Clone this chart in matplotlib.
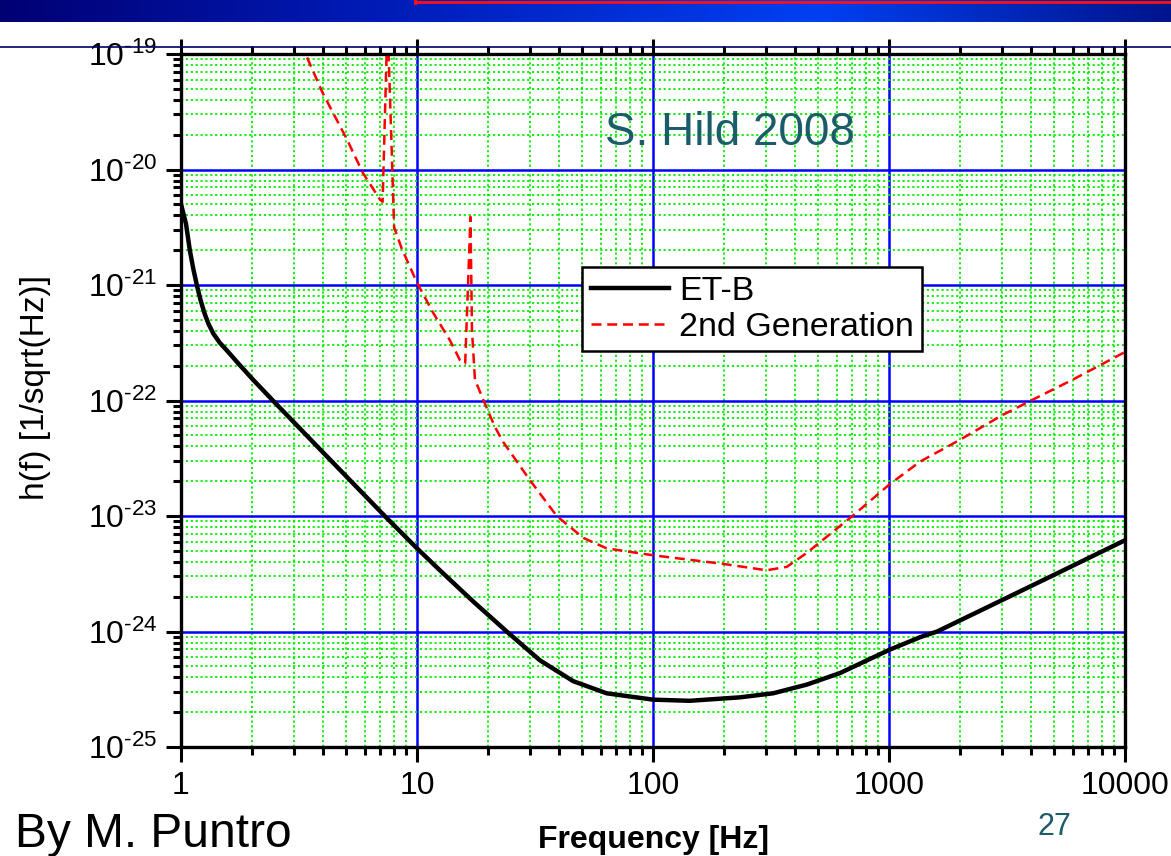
import numpy as np
import matplotlib
matplotlib.use("Agg")
import matplotlib.pyplot as plt
from matplotlib.lines import Line2D
from matplotlib.ticker import LogLocator, FuncFormatter, NullFormatter

plt.rcParams['font.family'] = ['Liberation Sans', 'DejaVu Sans']
plt.rcParams['mathtext.fontset'] = 'custom'
plt.rcParams['mathtext.rm'] = 'Liberation Sans'
plt.rcParams['mathtext.it'] = 'Liberation Sans:italic'
plt.rcParams['mathtext.bf'] = 'Liberation Sans:bold'

# ET-B sensitivity (log10 of h)
etb_f = [1.0, 1.05, 1.09, 1.13, 1.17, 1.21, 1.26, 1.31, 1.37, 1.46, 1.57, 1.75, 2.02,
         2.45, 4.0, 7.3, 10, 12.5, 17.3, 24.0, 33.2, 45.9, 63.6, 100, 143, 234, 323,
         448, 620, 1000, 1352, 1600, 3000, 5000, 10000]
etb_logh = [-20.30, -20.47, -20.70, -20.87, -21.01, -21.13, -21.25, -21.34, -21.42,
            -21.50, -21.57, -21.68, -21.82, -22.0, -22.45, -23.0, -23.28, -23.47,
            -23.74, -24.0, -24.25, -24.43, -24.535, -24.59, -24.60, -24.57, -24.535,
            -24.46, -24.36, -24.16, -24.05, -24.0, -23.73, -23.51, -23.21]

# 2nd generation sensitivity
gen2_f = [3.42, 3.99, 5.05, 5.9, 6.97, 7.15, 7.5, 8.0, 8.6, 10, 11.7, 13.8, 15.2,
          16.0, 16.85, 17.1, 17.6, 19.7, 21.4, 23.2, 30.1, 39.1, 50.7, 63.6, 100, 199,
          303, 369, 448, 700, 1000, 1352, 2000, 3000, 4000, 6000, 10000]
gen2_logh = [-19.03, -19.34, -19.74, -20.03, -20.26, -20.28, -18.7, -20.5, -20.68,
             -20.98, -21.24, -21.48, -21.65, -21.68, -20.41, -21.39, -21.82, -22.06,
             -22.23, -22.36, -22.69, -23.0, -23.19, -23.28, -23.34, -23.415, -23.47,
             -23.44, -23.32, -23.0, -22.73, -22.53, -22.34, -22.13, -22.0, -21.82,
             -21.58]

series_labels = ['ET-B', '2nd Generation']
x_ticks = [1, 10, 100, 1000, 10000]
y_exps = [-25, -24, -23, -22, -21, -20, -19]

etb_h = 10.0 ** np.array(etb_logh)
gen2_h = 10.0 ** np.array(gen2_logh)

W, H = 1171, 856
fig = plt.figure(figsize=(W / 100, H / 100), dpi=100)

# slide decorations: gradient title bar, red frame edge, rule line
band = fig.add_axes([0, 1 - 22 / H, 1, 22 / H])
grad = np.linspace(0, 1, 400)
r = np.interp(grad, [0, 0.3, 0.7, 1], [0.0, 0.0, 0.0, 0.0])
g = np.interp(grad, [0, 0.3, 0.7, 1], [0.0, 0.10, 0.25, 0.08])
b = np.interp(grad, [0, 0.3, 0.7, 1], [0.45, 0.70, 0.95, 0.55])
band.imshow(np.dstack([r, g, b]), aspect='auto', extent=[0, 1, 0, 1])
band.set_axis_off()
fig.add_artist(Line2D([415 / W, 1], [1 - 2 / H, 1 - 2 / H], color='#ff1010', lw=2))
fig.add_artist(Line2D([415 / W, 415 / W], [1 - 3 / H, 1], color='#ff1010', lw=2))
fig.add_artist(Line2D([0, 1], [1 - 47 / H, 1 - 47 / H], color='#000066', lw=1.2))

ax = fig.add_axes([181 / W, 1 - 747 / H, (1125 - 181) / W, (747 - 54) / H])
ax.set_xscale('log')
ax.set_yscale('log')
ax.set_xlim(1, 10000)
ax.set_ylim(1e-25, 1e-19)

ax.plot(etb_f, etb_h, color='black', lw=3.2, label=series_labels[0], zorder=4)
ax.plot(gen2_f, gen2_h, color='#ff0000', lw=1.8, ls=(0, (4, 2.3)),
        label=series_labels[1], zorder=3)

ax.xaxis.set_minor_locator(LogLocator(base=10, subs=np.arange(2, 10), numticks=20))
ax.yaxis.set_minor_locator(LogLocator(base=10, subs=np.arange(2, 10), numticks=20))
ax.set_xticks(x_ticks)
ax.set_xticklabels([str(v) for v in x_ticks])
ax.set_yticks([10.0 ** e for e in y_exps])
ax.yaxis.set_major_formatter(
    FuncFormatter(lambda v, p: '$\\mathregular{10^{\u2010%d}}$' % abs(round(np.log10(v)))))
ax.xaxis.set_minor_formatter(NullFormatter())
ax.yaxis.set_minor_formatter(NullFormatter())

ax.set_axisbelow(True)
ax.grid(which='minor', color='#00ee00', lw=1.3, ls=(0, (1.2, 1.5)))
ax.grid(which='major', color='#0000ff', lw=1.8, ls='-')

for s in ax.spines.values():
    s.set_linewidth(2.4)
    s.set_zorder(6)
ax.tick_params(which='both', direction='out', top=True, right=False, width=2.2, labelsize=23,
               color='black')
ax.tick_params(which='major', length=11, pad=6)
ax.tick_params(which='minor', length=6)

leg = ax.legend(loc='upper left', bbox_to_anchor=((582 - 181) / 944, (747 - 267) / 693),
                borderaxespad=0, fontsize=24.5, frameon=True, fancybox=False,
                edgecolor='black', framealpha=1, handlelength=2.3,
                handletextpad=0.3, borderpad=0.25, labelspacing=0.15)
leg.get_frame().set_linewidth(1.8)
leg.set_zorder(7)

fig.text(36 / W, 1 - 388 / H, 'h(f) [1/sqrt(Hz)]', rotation=90, ha='center', va='center',
         fontsize=24)
fig.text(654 / W, 1 - 848 / H, 'Frequency [Hz]', ha='center', va='baseline',
         fontsize=23, fontweight='bold')
fig.text(15 / W, 1 - 847 / H, 'By M. Puntro', ha='left', va='baseline', fontsize=34.5)
fig.text(1054 / W, 1 - 835 / H, '27', ha='center', va='baseline', fontsize=22,
         color='#1a5c68')
ax.text(730 / W, 1 - 145 / H, 'S. Hild 2008', transform=fig.transFigure, ha='center',
        va='baseline', fontsize=33, color='#1a5c68', zorder=5)

fig.savefig('out.png', dpi=100)
